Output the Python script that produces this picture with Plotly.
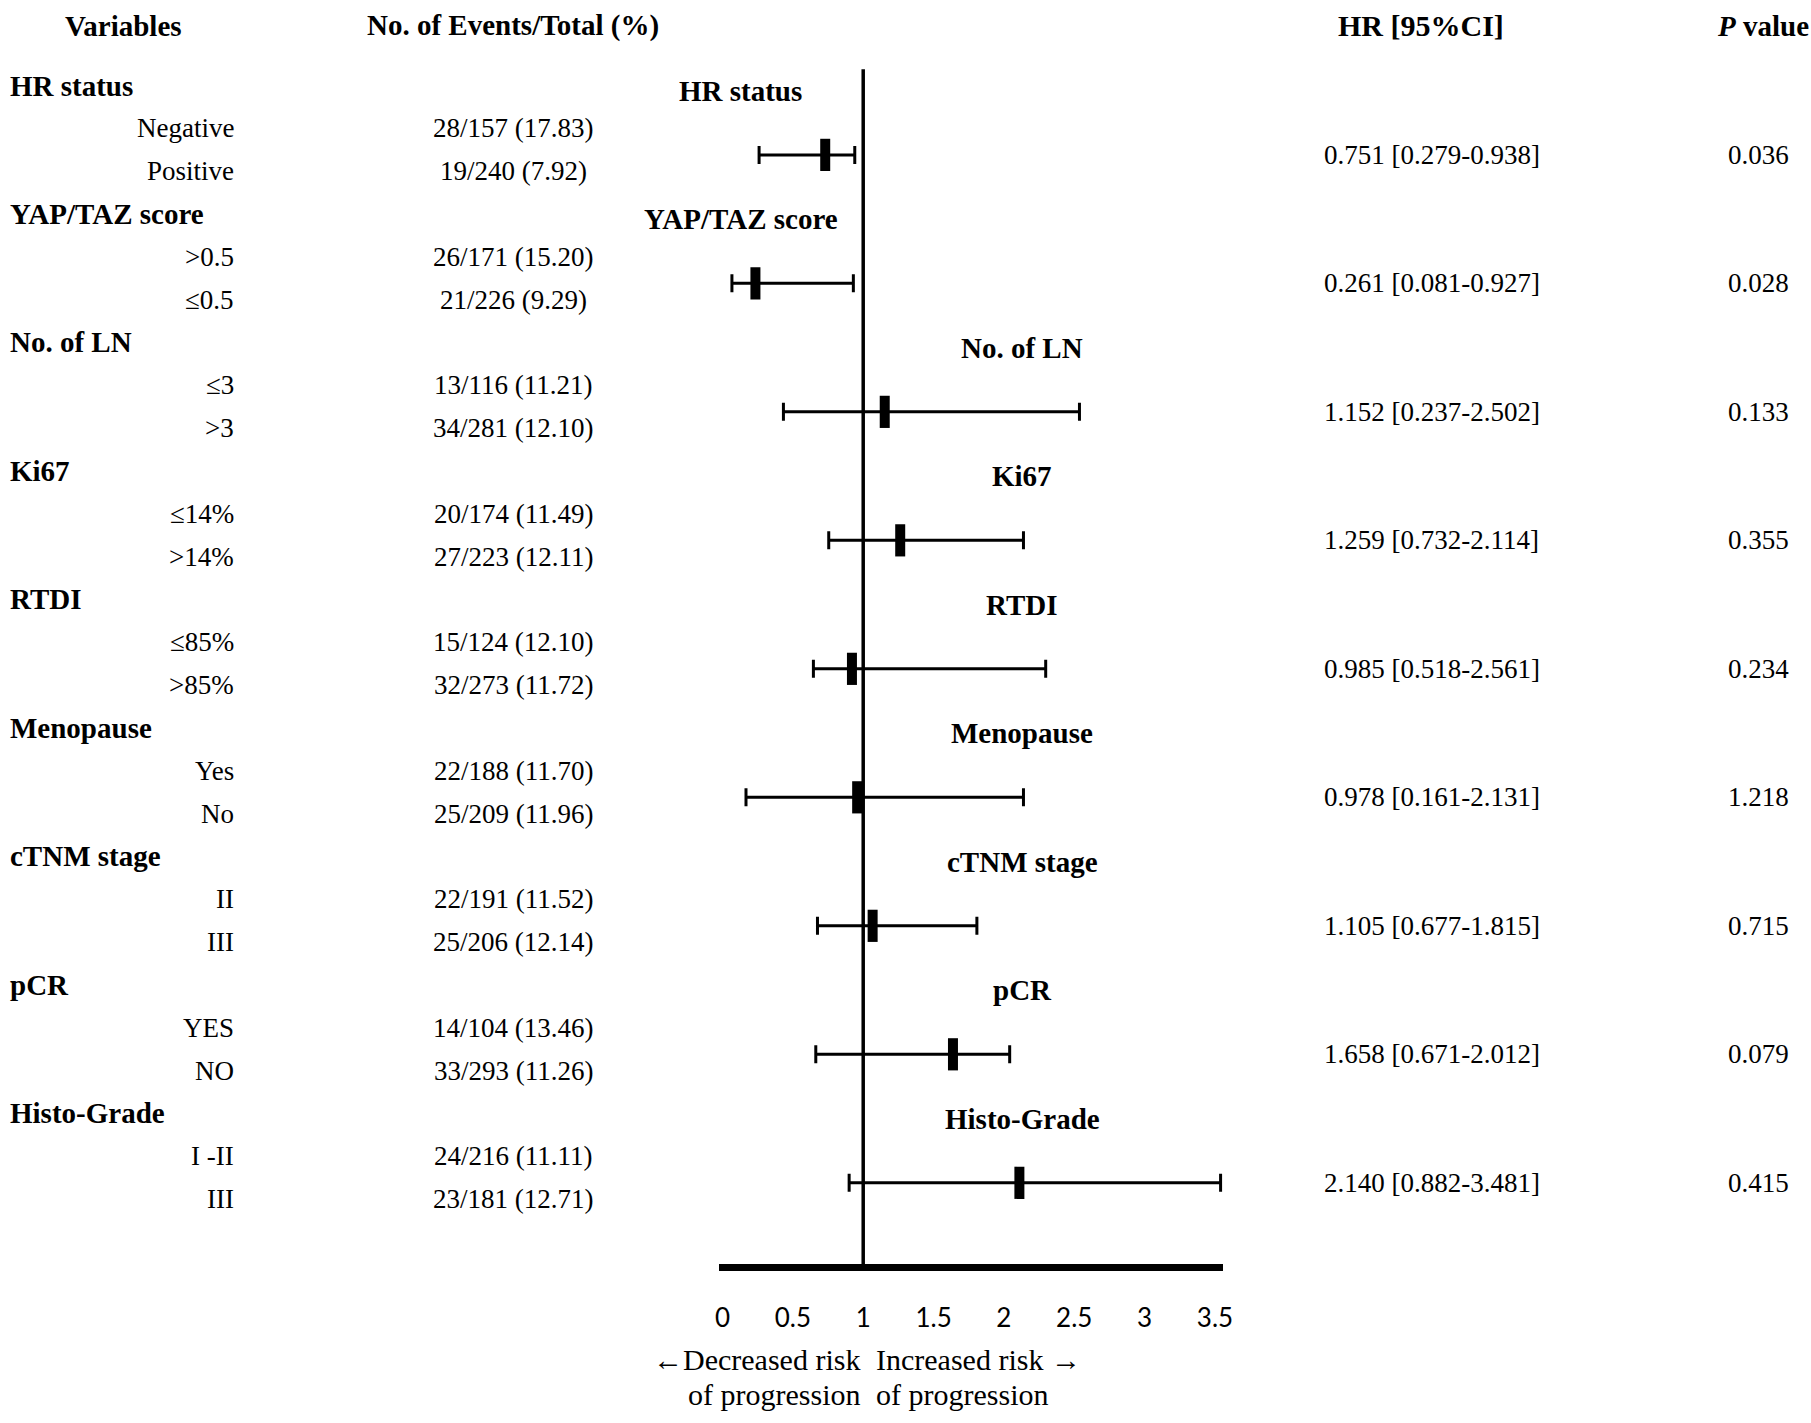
import plotly.graph_objects as go

# Table data
groups = ["HR status", "YAP/TAZ score", "No. of LN", "Ki67", "RTDI",
          "Menopause", "cTNM stage", "pCR", "Histo-Grade"]
sub_a = ["Negative", ">0.5", "≤3", "≤14%", "≤85%", "Yes", "II", "YES", "I -II"]
sub_b = ["Positive", "≤0.5", ">3", ">14%", ">85%", "No", "III", "NO", "III"]
events_a = ["28/157 (17.83)", "26/171 (15.20)", "13/116 (11.21)", "20/174 (11.49)",
            "15/124 (12.10)", "22/188 (11.70)", "22/191 (11.52)", "14/104 (13.46)",
            "24/216 (11.11)"]
events_b = ["19/240 (7.92)", "21/226 (9.29)", "34/281 (12.10)", "27/223 (12.11)",
            "32/273 (11.72)", "25/209 (11.96)", "25/206 (12.14)", "33/293 (11.26)",
            "23/181 (12.71)"]
hr_text = ["0.751 [0.279-0.938]", "0.261 [0.081-0.927]", "1.152 [0.237-2.502]",
           "1.259 [0.732-2.114]", "0.985 [0.518-2.561]", "0.978 [0.161-2.131]",
           "1.105 [0.677-1.815]", "1.658 [0.671-2.012]", "2.140 [0.882-3.481]"]
p_values = ["0.036", "0.028", "0.133", "0.355", "0.234", "1.218", "0.715", "0.079", "0.415"]

# Forest marks as drawn in the figure
hr = [0.73, 0.234, 1.153, 1.263, 0.92, 0.957, 1.067, 1.638, 2.11]
ci_lo = [0.26, 0.067, 0.433, 0.755, 0.646, 0.167, 0.675, 0.663, 0.90]
ci_hi = [0.94, 0.93, 2.537, 2.139, 2.297, 2.139, 1.808, 2.041, 3.54]

x_ticks = [0, 0.5, 1, 1.5, 2, 2.5, 3, 3.5]

SERIF = "Liberation Serif"
FS = 27      # regular text
FB = 29      # bold labels / headers
W, H = 1811, 1423

group_row = [3 * k for k in range(len(groups))]
bar_row = [3 * k + 1.62 for k in range(len(groups))]

fig = go.Figure()

fig.add_trace(go.Scatter(
    x=hr, y=bar_row, mode="markers",
    marker=dict(symbol="line-ns", size=23, color="black",
                line=dict(width=10, color="black")),
    error_x=dict(type="data", symmetric=False,
                 array=[h - v for h, v in zip(ci_hi, hr)],
                 arrayminus=[h - v for h, v in zip(hr, ci_lo)],
                 color="black", thickness=3, width=9),
    showlegend=False, hoverinfo="skip"))

# reference line at HR = 1
fig.add_shape(type="line", xref="x", yref="y", x0=1, x1=1, y0=-0.38, y1=27.59,
              line=dict(color="black", width=3.5), layer="above")

ann = []


def txt(x, y, s, xanchor="center", bold=False, xref="paper", size=None, xshift=0):
    if size is None:
        size = FB if bold else FS
    if bold:
        s = "<b>" + s + "</b>"
    ann.append(dict(x=x, y=y, xref=xref, yref="y", text=s, showarrow=False,
                    xanchor=xanchor, yanchor="middle", xshift=xshift,
                    font=dict(family=SERIF, size=size, color="black")))


hdr = -1.40
txt(120 / W, hdr, "Variables", bold=True)
txt(513 / W, hdr, "No. of Events/Total (%)", bold=True)
txt(1428 / W, hdr, "HR [95%CI]", bold=True, size=30)
txt(1.0, hdr, "<i>P</i> value", xanchor="right", bold=True, xshift=10)

for k, g in enumerate(groups):
    r = group_row[k]
    txt(4 / W, r, g, xanchor="left", bold=True)
    txt(234 / W, r + 1, sub_a[k], xanchor="right")
    txt(234 / W, r + 2, sub_b[k], xanchor="right")
    txt(513 / W, r + 1, events_a[k])
    txt(513 / W, r + 2, events_b[k])
    txt(1439 / W, bar_row[k], hr_text[k])
    txt(1768 / W, bar_row[k], p_values[k])
    # group label inside the forest panel
    lx = 0.13 if ci_hi[k] < 1 else 2.13
    txt(lx, bar_row[k] - 1.5, g, bold=True, xref="x")

# direction captions under the axis
txt(0.99, 29.74, "←Decreased risk", xanchor="right", xref="x", size=30)
txt(0.99, 30.57, "of progression", xanchor="right", xref="x", size=30)
txt(1.08, 29.74, "Increased risk →", xanchor="left", xref="x", size=30)
txt(1.08, 30.57, "of progression", xanchor="left", xref="x", size=30)

axis_y = 1 - (85.5 + 42.83 * 27.59) / H

fig.update_layout(
    width=W, height=H,
    margin=dict(l=0, r=0, t=0, b=0),
    paper_bgcolor="white", plot_bgcolor="white",
    annotations=ann,
    xaxis=dict(domain=[720.7 / W, 1228.9 / W], range=[-0.024, 3.56],
               anchor="free", position=axis_y,
               showline=True, linewidth=7, linecolor="black",
               showgrid=False, zeroline=False, ticks="",
               tickvals=x_ticks, ticktext=[f"{v:g}" for v in x_ticks],
               ticklabelstandoff=25,
               tickfont=dict(family="Lato", size=26, color="black")),
    yaxis=dict(domain=[0, 1], range=[(H - 85.5) / 42.83, -85.5 / 42.83],
               visible=False, showgrid=False, zeroline=False),
)

fig.write_html("out.html", config={"displayModeBar": False},
               post_script="document.body.style.margin='0px';")
